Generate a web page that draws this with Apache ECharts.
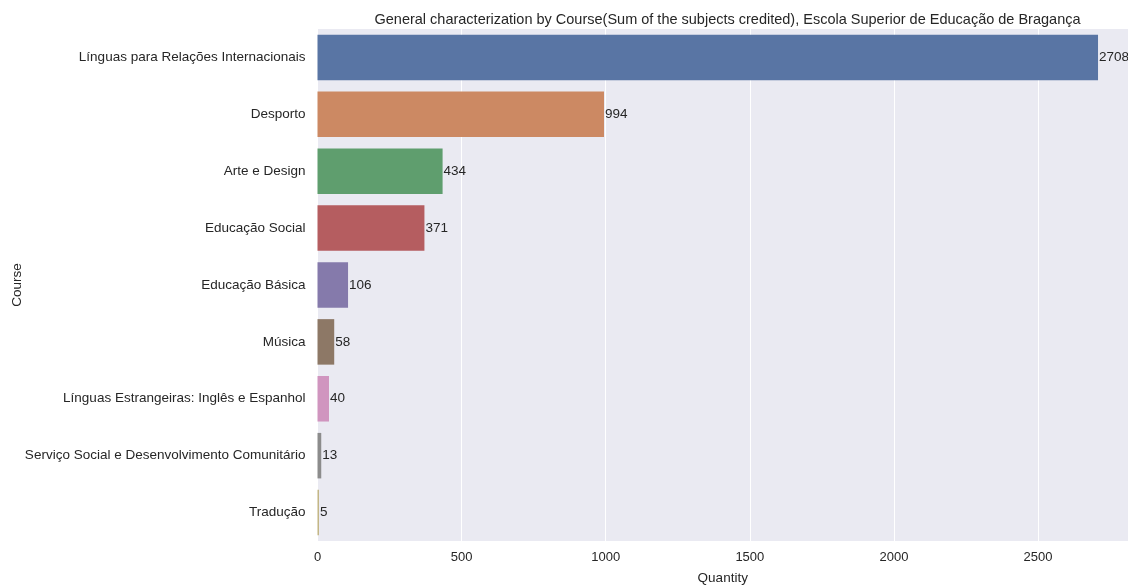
<!DOCTYPE html>
<html>
<head>
<meta charset="utf-8">
<script src="https://cdn.jsdelivr.net/npm/echarts@6/dist/echarts.min.js"></script>
<style>
html,body{margin:0;padding:0;background:#fff;}
#chart{width:1128px;height:585px;}
</style>
</head>
<body>
<div id="chart"></div>
<script>
const categories = [
  "Línguas para Relações Internacionais",
  "Desporto",
  "Arte e Design",
  "Educação Social",
  "Educação Básica",
  "Música",
  "Línguas Estrangeiras: Inglês e Espanhol",
  "Serviço Social e Desenvolvimento Comunitário",
  "Tradução"
];
const values = [2708, 994, 434, 371, 106, 58, 40, 13, 5];
const colors = ["#5975a4", "#cc8963", "#5f9e6e", "#b55d60", "#857aab", "#8d7866", "#d095bf", "#8c8c8c", "#c1b37f"];
const titleText = "General characterization by Course(Sum of the subjects credited), Escola Superior de Educação de Bragança";

const FONT = "Liberation Sans, Arial, sans-serif";
const TXT = "#262626";
const chart = echarts.init(document.getElementById('chart'));
chart.setOption({
  backgroundColor: '#ffffff',
  animation: false,
  title: {
    text: titleText,
    left: 317 + (1128 - 317) / 2,
    textAlign: 'center',
    top: 7,
    textStyle: {fontFamily: FONT, fontSize: 14.5, fontWeight: 'normal', color: TXT}
  },
  grid: {left: 317.5, top: 29, bottom: 44, right: 0, containLabel: false, outerBoundsMode: 'none', show: true, backgroundColor: '#eaeaf2', borderWidth: 0},
  xAxis: {
    type: 'value', min: 0, max: 2812, interval: 500,
    name: 'Quantity', nameLocation: 'middle', nameGap: 30,
    nameTextStyle: {fontFamily: FONT, fontSize: 13.5, color: TXT},
    axisLine: {show: false}, axisTick: {show: false},
    axisLabel: {fontFamily: FONT, fontSize: 13, color: TXT, margin: 10, showMaxLabel: false, formatter: v => String(v)},
    splitLine: {show: true, lineStyle: {color: '#ffffff', width: 1}}
  },
  yAxis: {
    type: 'category', data: categories, inverse: true,
    name: 'Course', nameLocation: 'middle', nameGap: 293, nameMoveOverlap: false,
    nameTextStyle: {fontFamily: FONT, fontSize: 13.5, color: TXT},
    axisLine: {show: false}, axisTick: {show: false},
    axisLabel: {fontFamily: FONT, fontSize: 13.5, color: TXT, margin: 12},
    splitLine: {show: false}
  },
  series: [{
    type: 'bar',
    data: values.map((v, i) => ({value: v, itemStyle: {color: colors[i]}})),
    barCategoryGap: '20%',
    label: {show: true, position: 'right', distance: 1, fontFamily: FONT, fontSize: 13.5, color: TXT, formatter: p => String(p.value)}
  }]
});
</script>
</body>
</html>
